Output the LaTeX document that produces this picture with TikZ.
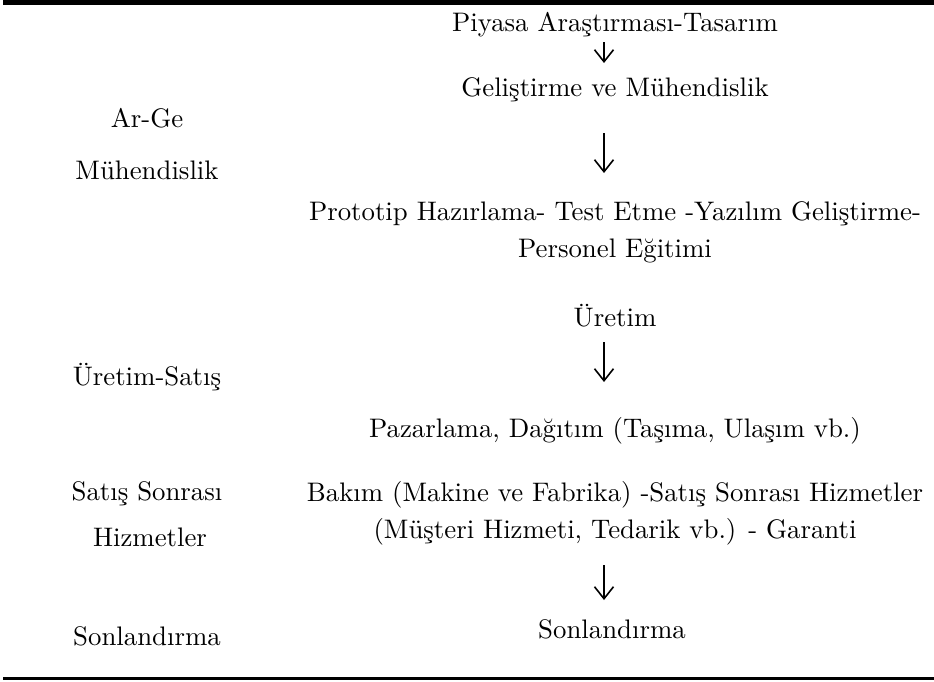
\documentclass[tikz,border=0pt]{standalone}
\usepackage{fontspec}
\setmainfont{lmroman10-regular}[Extension=.otf]
\usetikzlibrary{arrows.meta}

\begin{document}
\begin{tikzpicture}[
  x=1pt, y=-1pt, font=\fontsize{26.8}{37}\selectfont,
  lbl/.style={inner sep=0pt, anchor=base, align=center},
  blk/.style={inner sep=0pt, anchor=north, align=center},
  pf/.style={line width=1.6pt, -{Straight Barb[length=12pt, width=19pt, line width=1.6pt]}}
]
\useasboundingbox (0,0) rectangle (934,681);
\draw[line width=4.5pt] (3,2.3) -- (934,2.3);
\draw[line width=3pt] (3,678.5) -- (934,678.5);
% left column
\node[lbl] (arge) at (147,127) {Ar-Ge};
\node[lbl] (muh) at (147,179) {Mühendislik};
\node[lbl] (uretsat) at (147,385) {Üretim-Satış};
\node[lbl] (satson) at (147,500) {Satış Sonrası};
\node[lbl] (hizm) at (150,546) {Hizmetler};
\node[lbl] (sonl) at (147,645) {Sonlandırma};
% right column
\node[lbl] (piy) at (615,31) {Piyasa Araştırması-Tasarım};
\node[lbl] (gel) at (615,96) {Geliştirme ve Mühendislik};
\node[blk] (proto) at (615,201) {Prototip Hazırlama- Test Etme -Yazılım Geliştirme-\\Personel Eğitimi};
\node[lbl] (uret) at (615,326) {Üretim};
\node[lbl] (paz) at (615,437) {Pazarlama, Dağıtım (Taşıma, Ulaşım vb.)};
\node[blk] (bakim) at (615,481) {Bakım (Makine ve Fabrika) -Satış Sonrası Hizmetler\\(Müşteri Hizmeti, Tedarik vb.) - Garanti};
\node[lbl] (sonr) at (612,638) {Sonlandırma};
\draw[pf] ([shift={(-11,11)}]piy.base) -- ([shift={(-11,-33)}]gel.base);
\draw[pf] ([shift={(-11,37)}]gel.base) -- ([shift={(-11,-28)}]proto.north);
\draw[pf] ([shift={(-11,16)}]uret.base) -- ([shift={(-11,-55)}]paz.base);
\draw[pf] ([shift={(-11,20)}]bakim.south) -- ([shift={(-8,-38)}]sonr.base);
\end{tikzpicture}
\end{document}
